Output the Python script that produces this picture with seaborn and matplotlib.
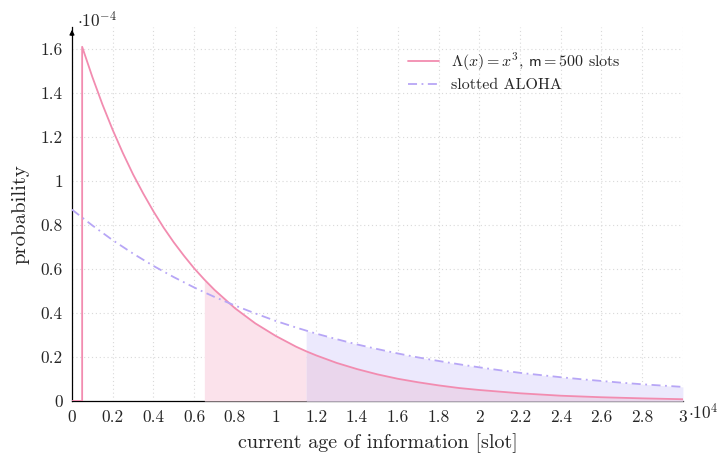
import numpy as np
import pandas as pd
import matplotlib
matplotlib.use("Agg")
import matplotlib.pyplot as plt
import seaborn as sns

# values (x in slots, y in units of 1e-4)
x_pink = [0, 500, 500, 1000, 1500, 2000, 2500, 3000, 3500, 4000, 4500, 5000, 5500,
          6000, 6500, 7000, 8000, 9000, 10000, 11000, 11500, 12000, 13000, 14000,
          15000, 16000, 17000, 18000, 19000, 20000, 22000, 24000, 26000, 28000, 30000]
y_pink = [0, 0, 1.61, 1.473, 1.347, 1.232, 1.127, 1.030, 0.943, 0.862, 0.788, 0.721, 0.660,
          0.603, 0.552, 0.505, 0.422, 0.353, 0.296, 0.247, 0.226, 0.207, 0.173, 0.145,
          0.121, 0.101, 0.085, 0.071, 0.059, 0.050, 0.035, 0.024, 0.017, 0.012, 0.008]

x_aloha = [0, 1000, 2000, 3000, 4000, 5000, 6000, 6500, 7000, 8000, 9000, 10000, 11000,
           11500, 12000, 13000, 14000, 15000, 16000, 17000, 18000, 19000, 20000, 21000,
           22000, 23000, 24000, 25000, 26000, 27000, 28000, 29000, 30000]
y_aloha = [0.870, 0.798, 0.731, 0.670, 0.614, 0.563, 0.516, 0.494, 0.473, 0.434, 0.398,
           0.364, 0.334, 0.320, 0.306, 0.281, 0.257, 0.236, 0.216, 0.198, 0.182, 0.167,
           0.153, 0.140, 0.128, 0.118, 0.108, 0.099, 0.091, 0.083, 0.076, 0.070, 0.064]

fill_pink_from = 6500
fill_aloha_from = 11500

x_ticks = [0, 2000, 4000, 6000, 8000, 10000, 12000, 14000, 16000, 18000, 20000,
           22000, 24000, 26000, 28000, 30000]
x_ticklabels = ["0", "0.2", "0.4", "0.6", "0.8", "1", "1.2", "1.4", "1.6", "1.8", "2",
                "2.2", "2.4", "2.6", "2.8", "3"]
y_ticks = [0, 0.2, 0.4, 0.6, 0.8, 1.0, 1.2, 1.4, 1.6]
y_ticklabels = ["0", "0.2", "0.4", "0.6", "0.8", "1", "1.2", "1.4", "1.6"]

label_pink = r"$\Lambda(x) = x^3$, $\mathsf{m} = 500$ slots"
label_aloha = "slotted ALOHA"

pink = "#f28cb0"
pink_fill = "#fbe2eb"
mix_fill = "#ead6ec"
lav = "#b7a6f6"
lav_fill = "#ece9fd"

sns.set_style("white")
plt.rcParams["font.family"] = ["serif"]
plt.rcParams["font.serif"] = ["cmr10", "DejaVu Serif"]
plt.rcParams["mathtext.fontset"] = "cm"
plt.rcParams["axes.unicode_minus"] = False

df_pink = pd.DataFrame({"x": x_pink, "y": y_pink})
df_aloha = pd.DataFrame({"x": x_aloha, "y": y_aloha})

fig = plt.figure(figsize=(7.19, 4.55), dpi=100)
ax = fig.add_axes([0.1001, 0.1187, 0.8497, 0.822])

# grid behind everything
ax.set_axisbelow(True)
ax.grid(True, color="#d9d9d9", linestyle=(0, (1, 2.5)), linewidth=0.8)

# shaded areas
a = df_aloha[df_aloha["x"] >= fill_aloha_from]
ax.fill_between(a["x"], 0, a["y"], color=lav_fill, lw=0, zorder=1)
p = df_pink[(df_pink["x"] >= fill_pink_from) & (df_pink["x"] <= fill_aloha_from)]
ax.fill_between(p["x"], 0, p["y"], color=pink_fill, lw=0, zorder=1.1)
pa = df_pink[df_pink["x"] >= fill_aloha_from]
ax.fill_between(pa["x"], 0, pa["y"], color=mix_fill, lw=0, zorder=1.2)

sns.lineplot(data=df_pink, x="x", y="y", sort=False, estimator=None, color=pink,
             lw=1.3, ax=ax, label=label_pink, zorder=3)
sns.lineplot(data=df_aloha, x="x", y="y", sort=False, estimator=None, color=lav,
             lw=1.3, ax=ax, label=label_aloha, zorder=3)
ax.lines[-1].set_linestyle((0, (5, 2.5, 1, 2.5)))

ax.set_xlim(0, 30000)
ax.set_ylim(0, 1.7)
ax.set_xticks(x_ticks)
ax.set_xticklabels(x_ticklabels)
ax.set_yticks(y_ticks)
ax.set_yticklabels(y_ticklabels)
ax.tick_params(direction="inout", length=5, width=0.6, labelsize=12.5, color="#333333",
               pad=4)

for side in ["top", "right"]:
    ax.spines[side].set_visible(False)
for side in ["left", "bottom"]:
    ax.spines[side].set_color("black")
    ax.spines[side].set_linewidth(0.9)
ax.spines["bottom"].set_zorder(0.5)

# arrow at top of y axis
ax.annotate("", xy=(0, 1.0), xycoords="axes fraction", xytext=(0, 0.97),
            arrowprops=dict(arrowstyle="-|>", color="black", lw=0.9,
                            mutation_scale=7), annotation_clip=False)

ax.text(0.008, 0.998, r"$\cdot 10^{-4}$", transform=ax.transAxes, fontsize=12.5,
        ha="left", va="baseline")
ax.annotate(r"$\cdot 10^{4}$", xy=(1.0, 0), xycoords="axes fraction",
            xytext=(3.8, -13.3), textcoords="offset points", ha="left", va="baseline",
            fontsize=12.5)

ax.set_xlabel("current age of information [slot]", fontsize=14.5, labelpad=6)
ax.set_ylabel("probability", fontsize=15, labelpad=8)

leg = ax.legend(loc="upper left", bbox_to_anchor=(0.527, 0.975), frameon=False,
                fontsize=11.5, handlelength=1.9, handletextpad=0.75, labelspacing=0.3)

fig.savefig("out.png", dpi=100)
